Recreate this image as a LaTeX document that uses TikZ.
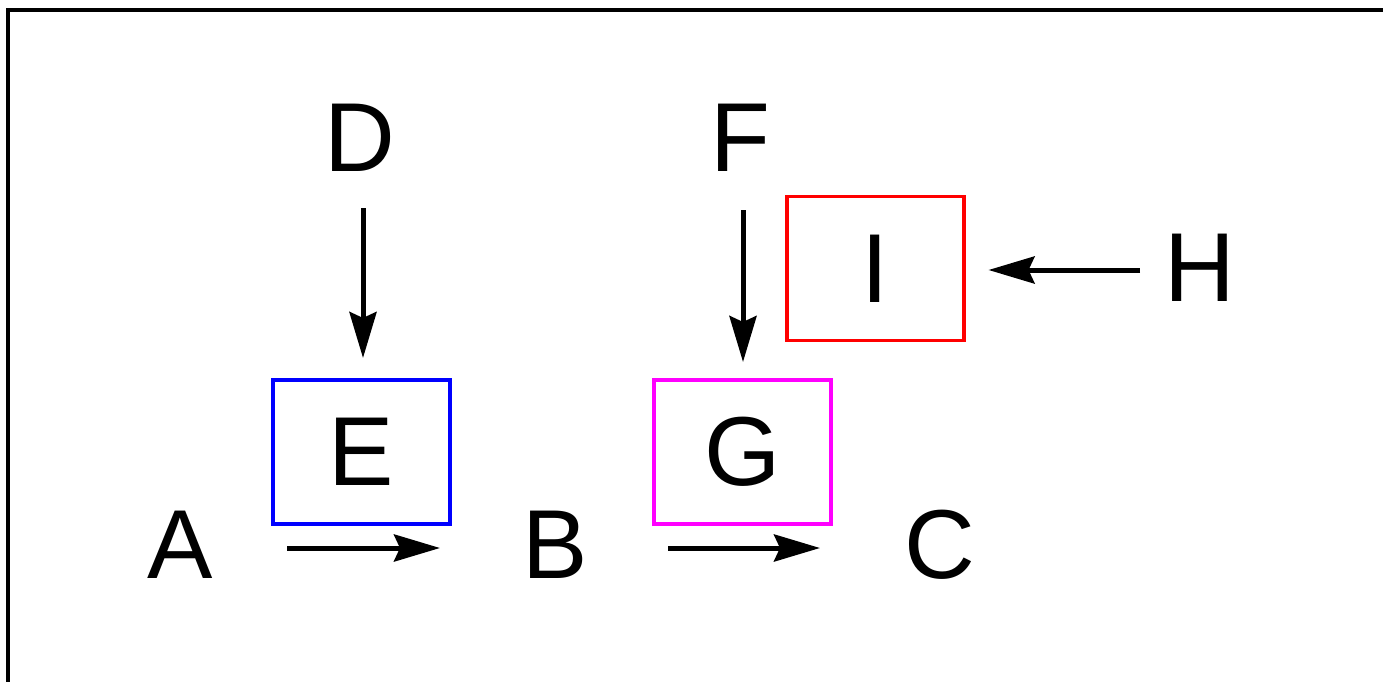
\documentclass[tikz,border=0pt]{standalone}
\usepackage{fontspec}
\setmainfont{Liberation Sans}
\usetikzlibrary{arrows.meta}
\definecolor{pblue}{RGB}{0,0,255}
\definecolor{pmagenta}{RGB}{255,0,255}
\definecolor{pred}{RGB}{255,0,0}
\begin{document}
\begin{tikzpicture}[x=1pt,y=-1pt,
  lbl/.style={inner sep=0pt,font=\fontsize{98}{100}\selectfont},
  boxed/.style={draw,line width=3.5pt,minimum width=177pt,minimum height=144pt,inner sep=0pt,font=\fontsize{98}{100}\selectfont},
  conn/.style={line width=5pt,-{Stealth[length=46pt,width=27pt,inset=6pt]}}]
\useasboundingbox (0,0) rectangle (1383,682);
\draw[line width=4.5pt] (8,700) -- (8,10) -- (1400,10);
\node[lbl] (A) at (180,545) {A};
\node[lbl] (B) at (555,545) {B};
\node[lbl] (C) at (940,545) {C};
\node[lbl] (D) at (360,138) {D};
\node[lbl] (F) at (740,138) {F};
\node[lbl] (H) at (1200,268) {H};
\node[boxed,draw=pblue] (E) at (361.5,452) {E};
\node[boxed,draw=pmagenta] (G) at (742.5,452) {G};
\node[boxed,draw=pred] (I) at (875.5,268.5) {I};
\draw[conn,shorten <=107pt,shorten >=115pt] ([yshift=-3pt]A.center) -- ([yshift=-3pt]B.center);
\draw[conn,shorten <=113pt,shorten >=120pt] ([yshift=-3pt]B.center) -- ([yshift=-3pt]C.center);
\draw[conn,shorten <=70pt,shorten >=94pt] ([xshift=3pt]D.center) -- ([xshift=1.5pt]E.center);
\draw[conn,shorten <=72pt,shorten >=90pt] ([xshift=3pt]F.center) -- ([xshift=0.5pt]G.center);
\draw[conn,shorten <=60pt,shorten >=113pt] ([yshift=-2pt]H.center) -- ([yshift=-1.5pt]I.center);
\end{tikzpicture}
\end{document}
